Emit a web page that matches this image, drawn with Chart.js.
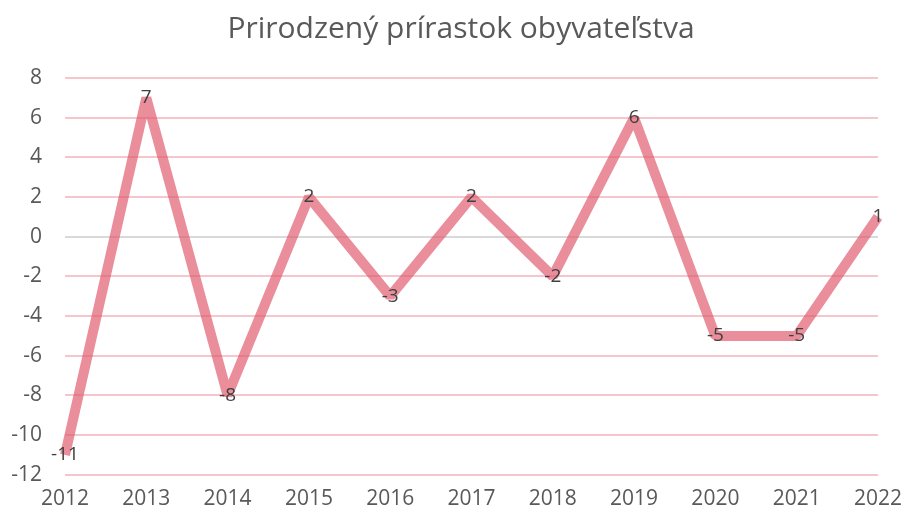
<!DOCTYPE html>
<html>
<head>
<meta charset="utf-8">
<script src="https://cdn.jsdelivr.net/npm/chart.js@4/dist/chart.umd.min.js"></script>
<style>
  html, body { margin: 0; padding: 0; background: #fff; }
  #wrap { width: 906px; height: 516px; }
</style>
</head>
<body>
<div id="wrap"><canvas id="myChart" width="906" height="516"></canvas></div>
<script>
// data
const years = ['2012','2013','2014','2015','2016','2017','2018','2019','2020','2021','2022'];
const increase = [-11, 7, -8, 2, -3, 2, -2, 6, -5, -5, 1];
const chartTitle = 'Prirodzený prírastok obyvateľstva';

const FONT = '"Open Sans", Lato, sans-serif';

/*
*Draw the value of every point on top of it
*/
const pointLabels = {
  id: 'pointLabels',
  afterLayout(chart) {
    // title is centred on the whole picture, not only the padded part
    if (chart.titleBlock) {
      chart.titleBlock.left += 21;
      chart.titleBlock.right += 21;
    }
  },
  afterDatasetsDraw(chart) {
    const ctx = chart.ctx;
    const meta = chart.getDatasetMeta(0);
    ctx.save();
    ctx.font = '19px ' + FONT;
    ctx.fillStyle = '#404040';
    ctx.textAlign = 'center';
    ctx.textBaseline = 'middle';
    meta.data.forEach((pt, i) => {
      ctx.fillText(String(increase[i]), pt.x, pt.y);
    });
    ctx.restore();
  }
};

const ctx = document.getElementById('myChart').getContext('2d');
const myChart = new Chart(ctx, {
  type: 'line',
  data: {
    labels: years,
    datasets: [{
      label: 'Prírastok',
      data: increase,
      borderColor: 'rgba(222, 88, 106, 0.68)',
      borderWidth: 10,
      borderJoinStyle: 'bevel',
      pointRadius: 0,
      tension: 0,
      fill: false
    }]
  },
  options: {
    responsive: false,
    animation: false,
    layout: { padding: { left: 2, right: 28, top: 6, bottom: 0 } },
    plugins: {
      legend: { display: false },
      tooltip: { enabled: false },
      title: {
        display: true,
        text: chartTitle,
        color: '#595959',
        font: { family: FONT, size: 30, weight: 'normal' },
        padding: { top: 5, bottom: 31 }
      }
    },
    scales: {
      x: {
        offset: false,
        grid: { display: false },
        border: { display: false },
        ticks: { color: '#595959', font: { family: FONT, size: 21 }, maxRotation: 0, padding: 4 }
      },
      y: {
        min: -12,
        max: 8,
        border: { display: false },
        afterFit: (scale) => { scale.width = 63; },
        grid: {
          color: (c) => c.tick && c.tick.value === 0 ? '#d9d9d9' : 'rgba(232, 130, 145, 0.45)',
          lineWidth: 2,
          drawTicks: false
        },
        ticks: { stepSize: 2, color: '#595959', font: { family: FONT, size: 21 }, padding: 23 }
      }
    }
  },
  plugins: [pointLabels]
});
</script>
</body>
</html>
